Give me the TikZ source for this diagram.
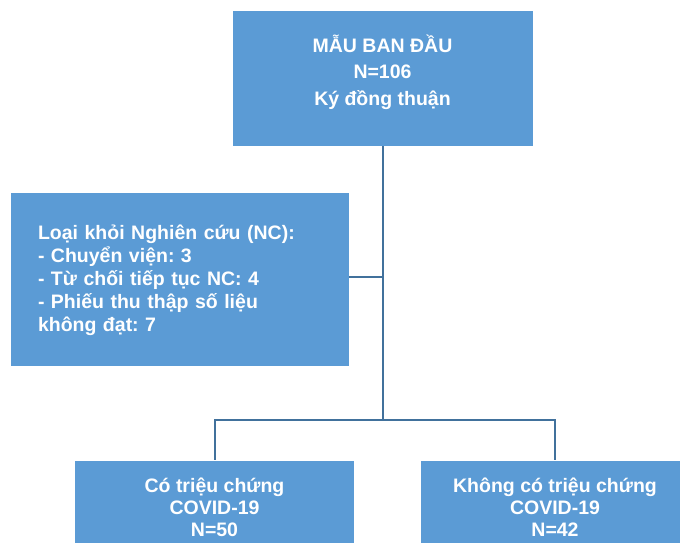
\documentclass[tikz,border=0pt]{standalone}
\usepackage{fontspec}
\setmainfont{Liberation Sans}
\frenchspacing
\definecolor{boxblue}{HTML}{5B9BD5}
\definecolor{lineblue}{HTML}{41719C}
\tikzset{
  box/.style={draw=white, line width=0.6pt, fill=boxblue, inner sep=0pt},
  txt/.style={text=white, align=center, inner sep=0pt},
  link/.style={draw=lineblue, line width=2pt}
}
\begin{document}
\begin{tikzpicture}[x=1pt,y=-1pt]
\useasboundingbox (0,0) rectangle (680,542);
\clip (0,0) rectangle (680,542);
\node[box, minimum width=301pt, minimum height=136pt] (mau) at (382.5,78) {};
\node[txt, font=\bfseries\fontsize{19.5}{26.5}\selectfont] (mautxt) at (382.5,72) {MẪU BAN ĐẦU\\N=106\\Ký đồng thuận};
\node[box, minimum width=339pt, minimum height=174pt] (loai) at (179.5,279) {};
\node[txt, align=left, text width=283pt, font=\bfseries\fontsize{19.5}{23}\selectfont] (loaitxt) at (179.5,280) {Loại khỏi Nghiên cứu (NC):\\- Chuyển viện: 3\\- Từ chối tiếp tục NC: 4\\- Phiếu thu thập số liệu\\không đạt: 7};
\node[box, minimum width=280pt, minimum height=92pt] (cotc) at (214.5,506) {};
\node[txt, font=\bfseries\fontsize{19.5}{22}\selectfont] (cotctxt) at (214.5,507) {Có triệu chứng\\COVID-19\\N=50};
\node[box, minimum width=270pt, minimum height=92pt] (khongtc) at (555,506) {};
\node[txt, font=\bfseries\fontsize{19.5}{22}\selectfont] (khongtctxt) at (555,507) {Không có triệu chứng\\COVID-19\\N=42};
\coordinate (side) at (382.5,277);
\coordinate (fork) at (382.5,420);
\draw[link] (mau.south) -- (fork);
\draw[link] (side) -- (side -| loai.east);
\draw[link] (cotc.north) |- (fork) -| (khongtc.north);
\end{tikzpicture}
\end{document}
